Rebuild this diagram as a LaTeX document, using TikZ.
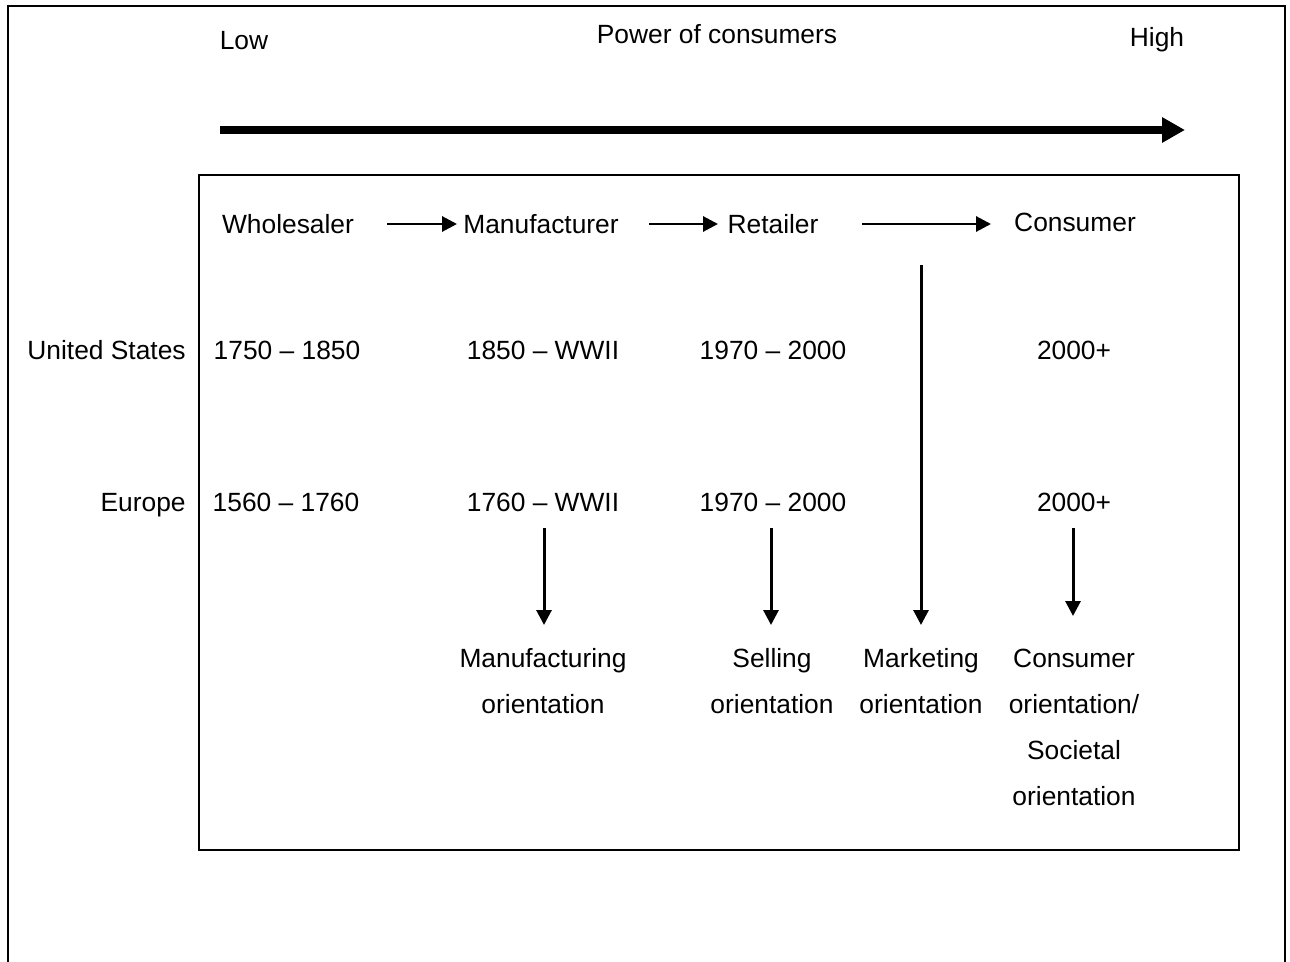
\documentclass[tikz,border=0pt]{standalone}
\usepackage{fontspec}
\setmainfont{Liberation Sans}
\usetikzlibrary{arrows.meta}
\begin{document}
\begin{tikzpicture}[x=0.02cm,y=-0.02cm,
  lbl/.style={anchor=base,inner sep=0pt,font=\fontsize{15}{26}\selectfont},
  mlbl/.style={lbl,align=center},
  flow/.style={line width=1.7pt,-{Triangle[length=8.5pt,width=8.5pt]}},
  power/.style={line width=5.1pt,-{Triangle[length=13pt,width=13.6pt]}},
  frame/.style={line width=1.1pt}]
\useasboundingbox (0,0) rectangle (1290,962);

% open outer frame and inner box
\draw[frame] (8,970) -- (8,6) -- (1285,6) -- (1285,970);
\draw[frame] (199,175) rectangle (1239,850);

% power of consumers scale
\node[lbl] (low) at (244,50) {Low};
\node[lbl] (pow) at (717,44) {Power of consumers};
\node[lbl] (high) at (1157,47) {High};
\coordinate (ps) at (220,130);
\coordinate (pe) at (1185,130);
\draw[power] (ps) -- (pe);

% channel leaders
\node[lbl] (who) at (288,234) {Wholesaler};
\node[lbl] (man) at (541,234) {Manufacturer};
\node[lbl] (ret) at (773,234) {Retailer};
\node[lbl] (con) at (1075,232) {Consumer};
\coordinate (a1s) at (387,224); \coordinate (a1e) at (457,224);
\coordinate (a2s) at (649,224); \coordinate (a2e) at (718,224);
\coordinate (a3s) at (862,224); \coordinate (a3e) at (991,224);
\draw[flow] (a1s) -- (a1e);
\draw[flow] (a2s) -- (a2e);
\draw[flow] (a3s) -- (a3e);

% periods
\node[lbl,anchor=base east] (us) at (186,359) {United States};
\node[lbl,anchor=base east] (eu) at (186,511) {Europe};
\node[lbl] (us1) at (287,359) {1750 – 1850};
\node[lbl] (us2) at (543,359) {1850 – WWII};
\node[lbl] (us3) at (773,359) {1970 – 2000};
\node[lbl] (us4) at (1074,359) {2000+};
\node[lbl] (eu1) at (286,511) {1560 – 1760};
\node[lbl] (eu2) at (543,511) {1760 – WWII};
\node[lbl] (eu3) at (773,511) {1970 – 2000};
\node[lbl] (eu4) at (1074,511) {2000+};

% orientations (base anchor sits on the last line)
\node[mlbl] (o1) at (543,713) {Manufacturing\\orientation};
\node[mlbl] (o2) at (772,713) {Selling\\orientation};
\node[mlbl] (o3) at (921,713) {Marketing\\orientation};
\node[mlbl] (o4) at (1074,805) {Consumer\\orientation/\\Societal\\orientation};

\coordinate (d1s) at (544,528); \coordinate (d1e) at (544,625);
\coordinate (d2s) at (771,528); \coordinate (d2e) at (771,625);
\coordinate (d3s) at (921,265); \coordinate (d3e) at (921,625);
\coordinate (d4s) at (1073,528); \coordinate (d4e) at (1073,616);
\draw[flow] (d1s) -- (d1e);
\draw[flow] (d2s) -- (d2e);
\draw[flow] (d3s) -- (d3e);
\draw[flow] (d4s) -- (d4e);
\end{tikzpicture}
\end{document}
